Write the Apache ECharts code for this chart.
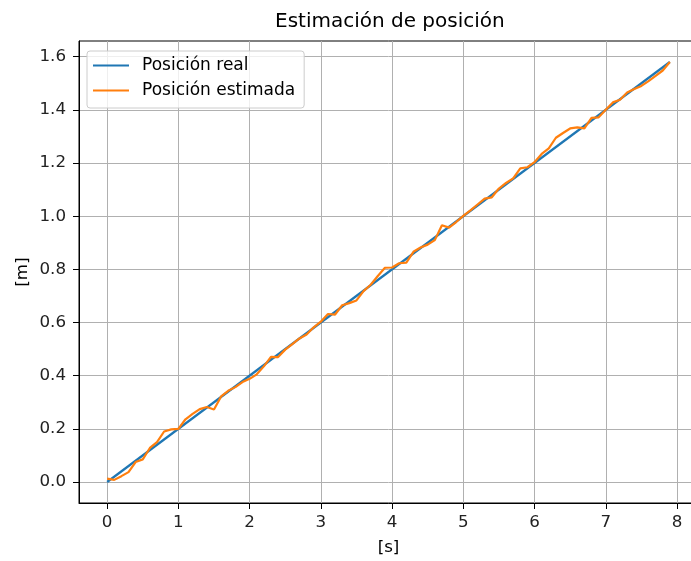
<!DOCTYPE html>
<html>
<head>
<meta charset="utf-8">
<title>Estimación de posición</title>
<script src="https://cdn.jsdelivr.net/npm/echarts@6/dist/echarts.min.js"></script>
<style>
  html, body { margin: 0; padding: 0; background: #fff; overflow: hidden; }
  /* the axes box runs a little past the right edge of the window */
  #chart { width: 720px; height: 561px; }
</style>
</head>
<body>
<div id="chart"></div>
<script>
// Time samples [s] of the estimated trajectory (0.1 s step)
const tiempo = [
  0.0, 0.1, 0.2, 0.3, 0.4, 0.5, 0.6, 0.7, 0.8, 0.9,
  1.0, 1.1, 1.2, 1.3, 1.4, 1.5, 1.6, 1.7, 1.8, 1.9,
  2.0, 2.1, 2.2, 2.3, 2.4, 2.5, 2.6, 2.7, 2.8, 2.9,
  3.0, 3.1, 3.2, 3.3, 3.4, 3.5, 3.6, 3.7, 3.8, 3.9,
  4.0, 4.1, 4.2, 4.3, 4.4, 4.5, 4.6, 4.7, 4.8, 4.9,
  5.0, 5.1, 5.2, 5.3, 5.4, 5.5, 5.6, 5.7, 5.8, 5.9,
  6.0, 6.1, 6.2, 6.3, 6.4, 6.5, 6.6, 6.7, 6.8, 6.9,
  7.0, 7.1, 7.2, 7.3, 7.4, 7.5, 7.6, 7.7, 7.8, 7.9
];

// Estimated position [m]
const posEstimada = [
  0.013, 0.008, 0.022, 0.037, 0.075, 0.085, 0.128, 0.150, 0.190, 0.198,
  0.200, 0.236, 0.256, 0.274, 0.282, 0.273, 0.322, 0.343, 0.357, 0.376,
  0.388, 0.405, 0.435, 0.471, 0.470, 0.498, 0.519, 0.540, 0.555, 0.582,
  0.603, 0.632, 0.630, 0.665, 0.673, 0.683, 0.718, 0.742, 0.775, 0.806,
  0.807, 0.823, 0.825, 0.866, 0.882, 0.893, 0.910, 0.966, 0.957, 0.978,
  1.001, 1.022, 1.044, 1.066, 1.071, 1.104, 1.125, 1.142, 1.180, 1.184,
  1.203, 1.234, 1.255, 1.295, 1.313, 1.330, 1.334, 1.330, 1.370, 1.372,
  1.400, 1.428, 1.438, 1.465, 1.478, 1.490, 1.508, 1.528, 1.548, 1.580
];

// Real position: constant-velocity straight line, end points [s, m]
const tiempoReal = [0.0, 7.9];
const posReal = [0.0, 1.58];

// Tick values of both axes
const ticksX = [0, 1, 2, 3, 4, 5, 6, 7, 8];
const ticksY = [0.0, 0.2, 0.4, 0.6, 0.8, 1.0, 1.2, 1.4, 1.6];

const FONT = 'DejaVu Sans';
const FS = 16.7;
const chart = echarts.init(document.getElementById('chart'), null, { renderer: 'canvas' });

const axisCommon = {
  type: 'value',
  axisLine: { show: true, onZero: false, lineStyle: { color: '#000', width: 1 } },
  axisTick: { show: true, length: 6, lineStyle: { color: '#000', width: 1 } },
  splitLine: { show: true, lineStyle: { color: '#b0b0b0', width: 1 } },
  nameLocation: 'middle',
  nameMoveOverlap: false,
  nameTextStyle: { fontFamily: FONT, fontSize: FS, color: '#000' }
};

chart.setOption({
  animation: false,
  backgroundColor: '#fff',
  title: {
    text: 'Estimación de posición',
    left: 270,
    top: 7,
    textStyle: { fontFamily: FONT, fontSize: 20, fontWeight: 'normal', color: '#000' }
  },
  legend: {
    orient: 'vertical',
    left: 87,
    top: 51,
    padding: [6, 9, 9, 6],
    itemGap: 8,
    itemWidth: 36,
    itemHeight: 2,
    icon: 'rect',
    backgroundColor: 'rgba(255,255,255,0.8)',
    borderColor: '#cccccc',
    borderWidth: 1,
    borderRadius: 3,
    textStyle: { fontFamily: FONT, fontSize: 17, color: '#000', padding: [0, 0, 0, 8] },
    data: ['Posición real', 'Posición estimada']
  },
  grid: {
    left: 79,
    top: 41,
    width: 619,
    height: 462,
    show: true,
    borderColor: '#000',
    borderWidth: 1,
    containLabel: false
  },
  xAxis: Object.assign({}, axisCommon, {
    min: -0.395,
    max: 8.295,
    name: '[s]',
    nameGap: 36,
    axisTick: Object.assign({}, axisCommon.axisTick, { customValues: ticksX }),
    axisLabel: {
      customValues: ticksX,
      margin: 11,
      fontFamily: FONT, fontSize: FS, color: '#222',
      formatter: v => String(Math.round(v))
    }
  }),
  yAxis: Object.assign({}, axisCommon, {
    min: -0.079,
    max: 1.659,
    name: '[m]',
    nameGap: 48,
    axisTick: Object.assign({}, axisCommon.axisTick, { customValues: ticksY }),
    axisLabel: {
      customValues: ticksY,
      margin: 13,
      fontFamily: FONT, fontSize: FS, color: '#222',
      formatter: v => v.toFixed(1)
    }
  }),
  series: [
    {
      name: 'Posición real',
      type: 'line',
      symbol: 'none',
      color: '#1f77b4',
      lineStyle: { width: 2.2 },
      data: tiempoReal.map((t, i) => [t, posReal[i]])
    },
    {
      name: 'Posición estimada',
      type: 'line',
      symbol: 'none',
      color: '#ff7f0e',
      lineStyle: { width: 2.2 },
      data: tiempo.map((t, i) => [t, posEstimada[i]])
    }
  ]
});
</script>
</body>
</html>
